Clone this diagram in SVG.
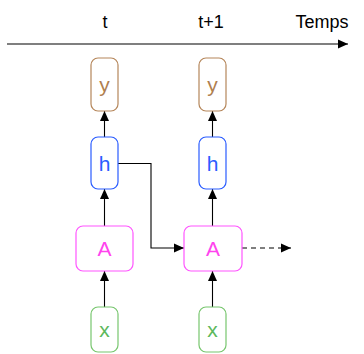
<svg xmlns="http://www.w3.org/2000/svg" width="364" height="354" viewBox="0 0 364 354">
<defs>
<marker id="arr" viewBox="0 0 10 10" refX="10" refY="5" markerWidth="10" markerHeight="10" markerUnits="userSpaceOnUse" orient="auto">
<path d="M0,0.5 L10,5 L0,9.5 z" fill="#000"/>
</marker>
<style>
.lbl{font-family:"Liberation Sans",Arial,sans-serif;text-anchor:middle}
.ax{font-size:18px}
.nl{font-size:21px}
.box{fill:#fff;stroke-width:1.2}
.c{fill:none;stroke:#000;stroke-width:1.1}
</style>
</defs>
<rect width="364" height="354" fill="#fff"/>
<g id="axis">
<line x1="7" y1="44" x2="348" y2="44" class="c" marker-end="url(#arr)"/>
<text class="lbl ax" x="105" y="28">t</text>
<text class="lbl ax" x="211" y="28">t+1</text>
<text class="lbl ax" x="322" y="28">Temps</text>
</g>
<g id="connectors">
<line class="c" x1="104.5" y1="137" x2="104.5" y2="111" marker-end="url(#arr)"/>
<line class="c" x1="104.5" y1="226" x2="104.5" y2="189" marker-end="url(#arr)"/>
<line class="c" x1="104.5" y1="307" x2="104.5" y2="271" marker-end="url(#arr)"/>
<line class="c" x1="212.5" y1="137" x2="212.5" y2="111" marker-end="url(#arr)"/>
<line class="c" x1="212.5" y1="226" x2="212.5" y2="189" marker-end="url(#arr)"/>
<line class="c" x1="212.5" y1="307" x2="212.5" y2="271" marker-end="url(#arr)"/>
<polyline class="c" points="118,163.5 151,163.5 151,248 184,248" marker-end="url(#arr)"/>
<line class="c" x1="242" y1="248" x2="291" y2="248" stroke-dasharray="5 4" marker-end="url(#arr)"/>
</g>
<g id="y1"><rect class="box" x="91" y="58" width="27" height="53" rx="7" stroke="#b5865a"/><text class="lbl nl" x="104.5" y="92" fill="#b07f4f">y</text></g>
<g id="y2"><rect class="box" x="199" y="58" width="27" height="53" rx="7" stroke="#b5865a"/><text class="lbl nl" x="212.5" y="92" fill="#b07f4f">y</text></g>
<g id="h1"><rect class="box" x="91" y="137" width="27" height="52" rx="7" stroke="#2a5cff"/><text class="lbl nl" x="104.5" y="171" fill="#2a5cff">h</text></g>
<g id="h2"><rect class="box" x="199" y="137" width="27" height="52" rx="7" stroke="#2a5cff"/><text class="lbl nl" x="212.5" y="171" fill="#2a5cff">h</text></g>
<g id="A1"><rect class="box" x="76" y="226" width="57" height="45" rx="7" stroke="#ff55ff"/><text class="lbl nl" x="104.5" y="256" fill="#ff44ee">A</text></g>
<g id="A2"><rect class="box" x="184" y="226" width="58" height="45" rx="7" stroke="#ff55ff"/><text class="lbl nl" x="213" y="256" fill="#ff44ee">A</text></g>
<g id="x1"><rect class="box" x="91" y="307" width="27" height="45" rx="7" stroke="#77c66e"/><text class="lbl nl" x="104.5" y="337" fill="#5cb85c">x</text></g>
<g id="x2"><rect class="box" x="199" y="307" width="27" height="45" rx="7" stroke="#77c66e"/><text class="lbl nl" x="212.5" y="337" fill="#5cb85c">x</text></g>
</svg>
